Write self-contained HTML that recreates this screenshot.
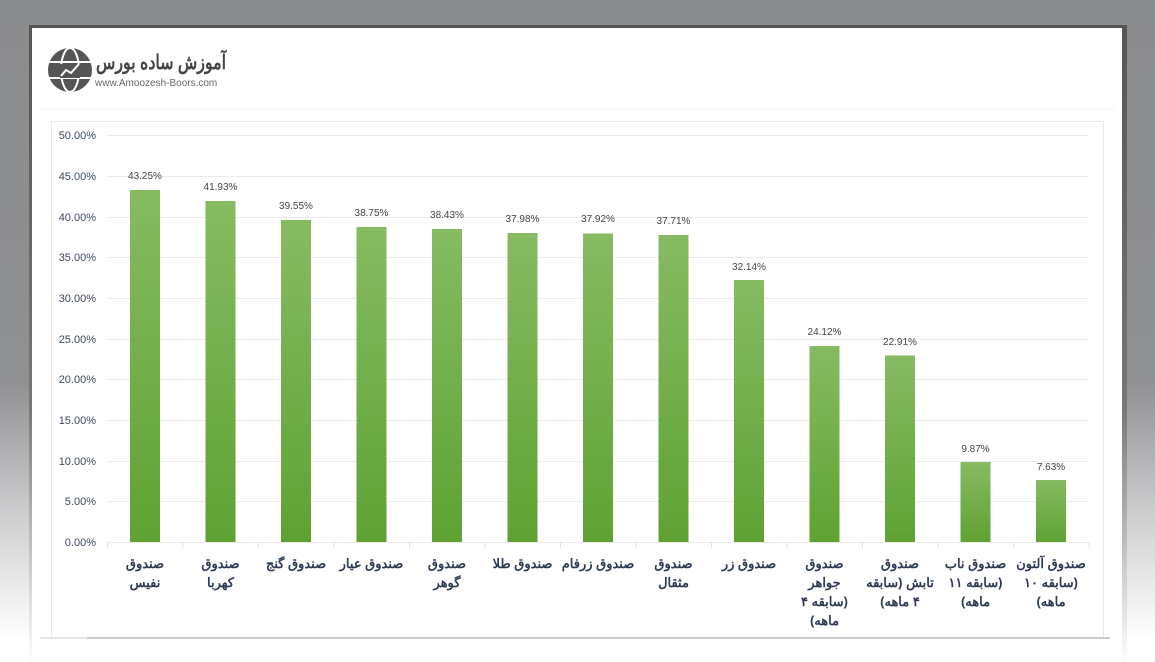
<!DOCTYPE html>
<html><head><meta charset="utf-8"><style>
html,body{margin:0;padding:0;width:1155px;height:662px;overflow:hidden;}
body{background:linear-gradient(#8b8c8e 0px,#8f9092 380px,#cfd0d1 520px,#ffffff 640px);}
</style></head><body>
<svg width="1155" height="662" xmlns="http://www.w3.org/2000/svg" style="position:absolute;left:0;top:0">
<defs>
<linearGradient id="g" x1="0" y1="0" x2="0" y2="1"><stop offset="0" stop-color="#86bb62"/><stop offset="1" stop-color="#5fa233"/></linearGradient>
<linearGradient id="card" x1="0" y1="0" x2="0" y2="1"><stop offset="0" stop-color="#555"/><stop offset="0.6" stop-color="#777"/><stop offset="1" stop-color="#fff"/></linearGradient>
</defs>
<rect x="29" y="25" width="1098" height="640" fill="url(#card)"/>
<rect x="32" y="28" width="1090" height="640" fill="#fff"/>
<line x1="40" y1="109" x2="1115" y2="109" stroke="#f1f3f5" stroke-width="1"/>
<rect x="51.5" y="121.5" width="1052" height="516" fill="#fff" stroke="#e6e8ea"/>
<line x1="40" y1="638" x2="87" y2="638" stroke="#e4e6ea" stroke-width="2"/>
<line x1="87" y1="638" x2="1110" y2="638" stroke="#c9ccd0" stroke-width="2"/>
<!-- logo -->
<circle cx="70" cy="70" r="22" fill="#555"/>
<ellipse cx="70" cy="70" rx="9" ry="22" fill="none" stroke="#fff" stroke-width="2"/>
<line x1="48" y1="62" x2="92" y2="62" stroke="#fff" stroke-width="2"/>
<line x1="48" y1="78" x2="92" y2="78" stroke="#fff" stroke-width="2"/>
<rect x="60" y="64" width="20" height="14" fill="#555"/>
<polyline points="61,76 66,70 71,73 79,64" fill="none" stroke="#fff" stroke-width="2"/>
<text x="226" y="69" text-anchor="start" font-family="'Liberation Sans','Noto Sans CJK SC',sans-serif" font-weight="bold" font-size="20" fill="#444" direction="rtl" textLength="130" lengthAdjust="spacingAndGlyphs">آموزش ساده بورس</text>
<text x="95" y="86" font-family="'Liberation Sans',sans-serif" font-size="10" fill="#666">www.Amoozesh-Boors.com</text>
<g font-family="'Liberation Sans',sans-serif" font-size="11" fill="#3b4a5e" text-anchor="end">
<g stroke="#e9ebee" stroke-width="1">
<line x1="107" y1="135.5" x2="1089" y2="135.5"/><line x1="107" y1="176.5" x2="1089" y2="176.5"/><line x1="107" y1="217.5" x2="1089" y2="217.5"/><line x1="107" y1="257.5" x2="1089" y2="257.5"/><line x1="107" y1="298.5" x2="1089" y2="298.5"/><line x1="107" y1="339.5" x2="1089" y2="339.5"/><line x1="107" y1="379.5" x2="1089" y2="379.5"/><line x1="107" y1="420.5" x2="1089" y2="420.5"/><line x1="107" y1="461.5" x2="1089" y2="461.5"/><line x1="107" y1="501.5" x2="1089" y2="501.5"/><line x1="107" y1="542.5" x2="1089" y2="542.5"/>
</g>
<text x="96" y="139">50.00%</text><text x="96" y="180">45.00%</text><text x="96" y="221">40.00%</text><text x="96" y="261">35.00%</text><text x="96" y="302">30.00%</text><text x="96" y="343">25.00%</text><text x="96" y="383">20.00%</text><text x="96" y="424">15.00%</text><text x="96" y="465">10.00%</text><text x="96" y="505">5.00%</text><text x="96" y="546">0.00%</text>
</g>
<g stroke="#dfe2e6"><line x1="107.5" y1="542" x2="107.5" y2="548"/><line x1="183" y1="542" x2="183" y2="548"/><line x1="258.5" y1="542" x2="258.5" y2="548"/><line x1="334" y1="542" x2="334" y2="548"/><line x1="409.5" y1="542" x2="409.5" y2="548"/><line x1="485" y1="542" x2="485" y2="548"/><line x1="560.5" y1="542" x2="560.5" y2="548"/><line x1="636" y1="542" x2="636" y2="548"/><line x1="711.5" y1="542" x2="711.5" y2="548"/><line x1="787" y1="542" x2="787" y2="548"/><line x1="862.5" y1="542" x2="862.5" y2="548"/><line x1="938" y1="542" x2="938" y2="548"/><line x1="1013.5" y1="542" x2="1013.5" y2="548"/><line x1="1089" y1="542" x2="1089" y2="548"/></g>
<g fill="url(#g)">
<rect x="130" y="190" width="30" height="352"/>
<rect x="205.5" y="201" width="30" height="341"/>
<rect x="281" y="220" width="30" height="322"/>
<rect x="356.5" y="227" width="30" height="315"/>
<rect x="432" y="229" width="30" height="313"/>
<rect x="507.5" y="233" width="30" height="309"/>
<rect x="583" y="233.5" width="30" height="308.5"/>
<rect x="658.5" y="235" width="30" height="307"/>
<rect x="734" y="280" width="30" height="262"/>
<rect x="809.5" y="346" width="30" height="196"/>
<rect x="885" y="355.5" width="30" height="186.5"/>
<rect x="960.5" y="462" width="30" height="80"/>
<rect x="1036" y="480" width="30" height="62"/>
</g>
<g font-family="'Liberation Sans',sans-serif" font-size="10" fill="#444" text-anchor="middle">
<text x="145" y="179">43.25%</text><text x="220.5" y="190">41.93%</text><text x="296" y="209">39.55%</text><text x="371.5" y="216">38.75%</text><text x="447" y="218">38.43%</text><text x="522.5" y="222">37.98%</text><text x="598" y="222">37.92%</text><text x="673.5" y="224">37.71%</text><text x="749" y="270">32.14%</text><text x="824.5" y="335">24.12%</text><text x="900" y="345">22.91%</text><text x="975.5" y="452">9.87%</text><text x="1051" y="470">7.63%</text>
</g>
<g font-family="'Liberation Sans','Noto Sans CJK SC',sans-serif" font-weight="bold" font-size="13" fill="#2c3a55" text-anchor="middle" direction="rtl">
<text x="145" y="568">صندوق</text><text x="145" y="587">نفیس</text>
<text x="220.5" y="568">صندوق</text><text x="220.5" y="587">کهربا</text>
<text x="296" y="568">صندوق گنج</text>
<text x="371.5" y="568">صندوق عیار</text>
<text x="447" y="568">صندوق</text><text x="447" y="587">گوهر</text>
<text x="522.5" y="568">صندوق طلا</text>
<text x="598" y="568">صندوق زرفام</text>
<text x="673.5" y="568">صندوق</text><text x="673.5" y="587">مثقال</text>
<text x="749" y="568">صندوق زر</text>
<text x="824.5" y="568">صندوق</text><text x="824.5" y="587">جواهر</text><text x="824.5" y="606">(سابقه ۴</text><text x="824.5" y="625">ماهه)</text>
<text x="900" y="568">صندوق</text><text x="900" y="587">تابش (سابقه</text><text x="900" y="606">۴ ماهه)</text>
<text x="975.5" y="568">صندوق ناب</text><text x="975.5" y="587">(سابقه ۱۱</text><text x="975.5" y="606">ماهه)</text>
<text x="1051" y="568">صندوق آلتون</text><text x="1051" y="587">(سابقه ۱۰</text><text x="1051" y="606">ماهه)</text>
</g>
</svg>
</body></html>
